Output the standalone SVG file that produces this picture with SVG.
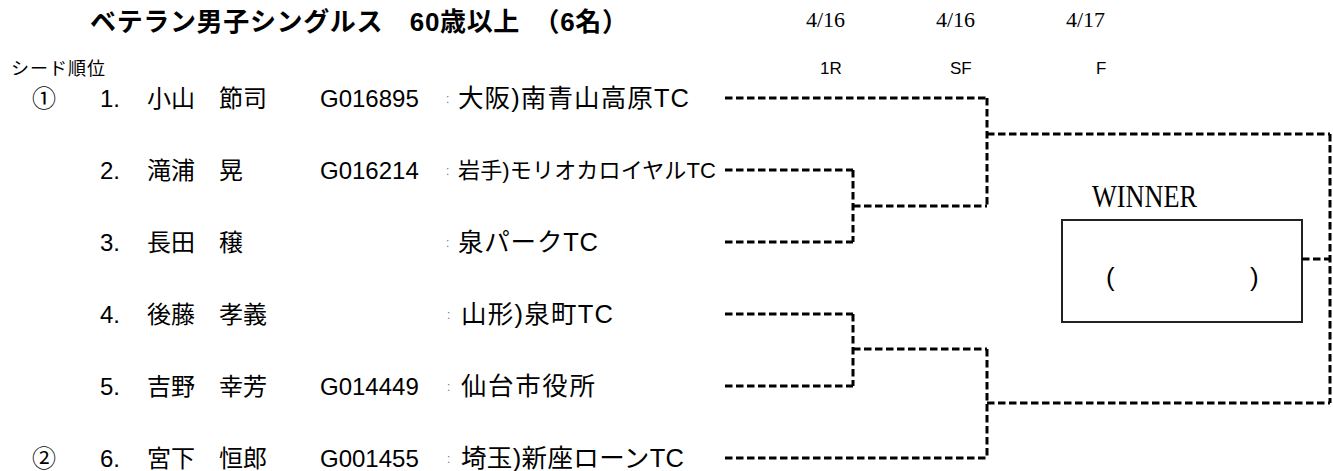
<svg xmlns="http://www.w3.org/2000/svg" width="1333" height="471" viewBox="0 0 1333 471">
<style>
.t{font-family:"Liberation Sans","Noto Sans CJK JP",sans-serif;fill:#000}
.e{font-size:24px}
.k{font-size:25.5px}
.c{font-size:12px;fill:#777}
.d{font-family:"Liberation Serif","Noto Serif CJK JP",serif;font-size:22px;fill:#000}
.r{font-size:17px}
.ln{fill:none;stroke:#000;stroke-width:3;stroke-dasharray:7.5 3.5}
</style>
<rect width="1333" height="471" fill="#fff"/>
<g id="header">
<text class="t" x="90" y="31" font-size="26" font-weight="bold" textLength="538">ベテラン男子シングルス　60歳以上　（6名）</text>
<text class="d" x="806" y="27">4/16</text>
<text class="d" x="936" y="27">4/16</text>
<text class="d" x="1066" y="27">4/17</text>
<text class="t" x="11" y="75" font-size="18" textLength="94">シード順位</text>
<text class="t r" x="820" y="74">1R</text>
<text class="t r" x="950" y="74">SF</text>
<text class="t r" x="1096" y="74">F</text>
</g>
<g id="player1">
<text class="t e" x="32" y="107">①</text>
<text class="t e" x="100" y="107">1.</text>
<text class="t e" x="147" y="107">小山　節司</text>
<text class="t e" x="320" y="107">G016895</text>
<text class="t c" x="446" y="103">:</text>
<text class="t k" x="458" y="107" textLength="231">大阪)南青山高原TC</text>
</g>
<g id="player2">
<text class="t e" x="100" y="179">2.</text>
<text class="t e" x="147" y="179">滝浦　晃</text>
<text class="t e" x="320" y="179">G016214</text>
<text class="t c" x="446" y="175">:</text>
<text class="t" x="458" y="178" font-size="22" textLength="258">岩手)モリオカロイヤルTC</text>
</g>
<g id="player3">
<text class="t e" x="100" y="251">3.</text>
<text class="t e" x="147" y="251">長田　穣</text>
<text class="t c" x="446" y="247">:</text>
<text class="t k" x="458" y="251" textLength="140">泉パークTC</text>
</g>
<g id="player4">
<text class="t e" x="100" y="323">4.</text>
<text class="t e" x="147" y="323">後藤　孝義</text>
<text class="t c" x="447" y="319">:</text>
<text class="t k" x="461" y="323" textLength="152">山形)泉町TC</text>
</g>
<g id="player5">
<text class="t e" x="100" y="395">5.</text>
<text class="t e" x="147" y="395">吉野　幸芳</text>
<text class="t e" x="320" y="395">G014449</text>
<text class="t c" x="447" y="391">:</text>
<text class="t k" x="461" y="395" textLength="134">仙台市役所</text>
</g>
<g id="player6">
<text class="t e" x="32" y="467">②</text>
<text class="t e" x="100" y="467">6.</text>
<text class="t e" x="147" y="467">宮下　恒郎</text>
<text class="t e" x="320" y="467">G001455</text>
<text class="t c" x="447" y="463">:</text>
<text class="t k" x="461" y="467" textLength="223">埼玉)新座ローンTC</text>
</g>
<g id="winner">
<text x="1092" y="207" font-family="Liberation Serif,serif" font-size="32" textLength="105" lengthAdjust="spacingAndGlyphs">WINNER</text>
<rect x="1062" y="220" width="240" height="102" fill="none" stroke="#222" stroke-width="2"/>
<text class="t" x="1106" y="286" font-size="26">(</text>
<text class="t" x="1250" y="286" font-size="26">)</text>
</g>
<g id="connectors">
<path class="ln" d="M725 98H987"/>
<path class="ln" d="M725 170H853"/>
<path class="ln" d="M725 242H853"/>
<path class="ln" d="M853 170V242"/>
<path class="ln" d="M853 206H987"/>
<path class="ln" d="M987 98V206"/>
<path class="ln" d="M987 134H1330"/>
<path class="ln" d="M725 314H853"/>
<path class="ln" d="M725 386H853"/>
<path class="ln" d="M853 314V386"/>
<path class="ln" d="M853 349H987"/>
<path class="ln" d="M725 458H987"/>
<path class="ln" d="M987 349V458"/>
<path class="ln" d="M987 403H1330"/>
<path class="ln" d="M1330 134V403"/>
<path class="ln" d="M1302 259H1330"/>
</g>
</svg>
